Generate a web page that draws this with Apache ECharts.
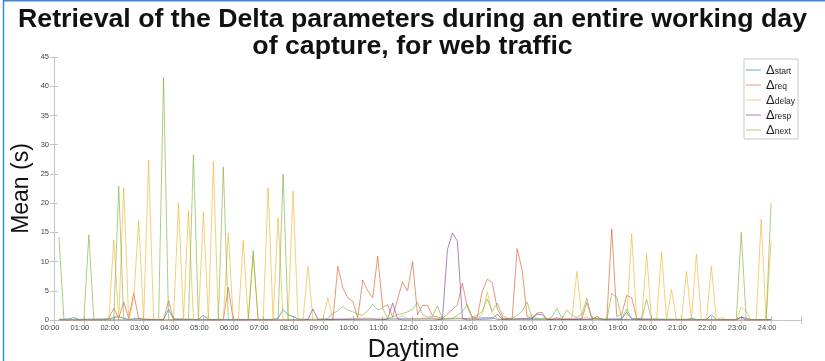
<!DOCTYPE html>
<html>
<head>
<meta charset="utf-8">
<script src="https://cdn.jsdelivr.net/npm/echarts@6/dist/echarts.min.js"></script>
<style>
html,body{margin:0;padding:0;background:#fff;}
#c{width:825px;height:361px;}
</style>
</head>
<body>
<div id="c"></div>
<script>
// Tick labels (hours)
const hourLabels = ['00:00','01:00','02:00','03:00','04:00','05:00','06:00','07:00','08:00','09:00','10:00','11:00','12:00','13:00','14:00','15:00','16:00','17:00','18:00','19:00','20:00','21:00','22:00','23:00','24:00'];
const seriesNames = ['start','req','delay','resp','next'];

// [minute of day, mean (s)]
const startData = [[10,0.1],[30,0.2],[40,0.4],[50,0.1],[110,0.2],[120,0.4],[130,0.6],[140,0.3],[150,0.1],[170,0.3],[180,0.1],[220,0.1],[230,1.8],[240,0.2],[290,0.1],[300,0.8],[310,0.1],[440,0.1],[450,0.3],[460,1.8],[470,0.9],[480,0.6],[490,0.2],[500,0.1],[640,0.2],[650,0.1],[760,0.3],[770,0.1],[880,0.4],[890,0.1],[1000,0.1],[1010,0.4],[1020,0.1],[1140,0.2],[1150,1.3],[1160,0.2],[1270,0.1],[1280,0.3],[1290,0.1],[1310,0.1],[1320,0.9],[1330,0.1],[1370,0.1],[1380,0.5],[1390,0.3],[1400,0.1],[1440,0.1]];

const reqData = [[10,0],[100,0],[110,0.3],[120,2.0],[130,0.3],[140,3.1],[150,0.3],[160,4.6],[170,0.2],[220,0],[230,3.3],[240,0.1],[340,0],[350,5.6],[360,0],[560,0],[570,9.2],[580,5.5],[590,3.8],[600,3.2],[610,0.4],[620,6.8],[630,5.0],[640,3.8],[650,10.9],[660,2.2],[670,2.6],[680,0.5],[690,3.6],[700,6.5],[710,5.0],[720,10.0],[730,0.9],[740,2.5],[750,2.5],[760,0.7],[770,0.5],[780,0.3],[790,1.0],[800,1.8],[810,2.6],[820,6.3],[830,2.2],[840,0.3],[850,0.5],[860,4.9],[870,7.0],[880,6.4],[890,2.0],[900,0.3],[920,0.2],[930,12.2],[940,8.6],[950,0.6],[960,0.2],[970,1.2],[980,1.3],[990,0.1],[1060,0.2],[1070,3.0],[1080,0.3],[1110,0],[1120,15.6],[1130,0.6],[1140,1.0],[1150,4.2],[1160,3.8],[1170,0.3],[1180,0],[1440,0]];

const delayData = [[10,0],[110,0],[120,13.7],[130,0],[140,22.6],[150,0],[160,3.5],[170,17.0],[180,0],[190,27.4],[200,0],[240,0],[250,20.0],[260,0],[270,18.7],[280,0],[290,0],[300,18.5],[310,0],[320,27.1],[330,0],[340,0],[350,14.9],[360,0],[370,0],[380,13.6],[390,0],[400,10.8],[410,0],[420,0],[430,22.6],[440,0],[450,17.5],[460,0],[470,0],[480,22.1],[490,0],[500,0],[510,9.2],[520,0],[540,0.2],[550,3.8],[560,0],[580,0.1],[600,0.3],[690,0.3],[700,0.8],[710,0.2],[760,0.3],[800,0.2],[810,0.4],[820,0.1],[850,0.3],[860,1.0],[870,4.8],[880,1.2],[890,0.3],[900,0.1],[950,0.2],[960,0.9],[970,0.2],[1030,0.2],[1040,0.4],[1050,8.3],[1060,0.3],[1070,0.5],[1080,0.1],[1150,0],[1160,14.8],[1170,0],[1180,0],[1190,11.3],[1200,0],[1210,0],[1220,11.7],[1230,0],[1240,5.2],[1250,0],[1260,0],[1270,8.3],[1280,0],[1290,11.3],[1300,0],[1310,0],[1320,9.2],[1330,0],[1340,0.5],[1350,0],[1370,0],[1380,2.2],[1390,1.5],[1400,0],[1410,0],[1420,17.2],[1430,0],[1440,13.4]];

const respData = [[10,0],[500,0],[510,0.1],[520,1.9],[530,0.1],[660,0],[670,0.2],[680,2.9],[690,0.2],[700,0],[770,0],[780,0.2],[790,12.0],[800,14.9],[810,13.5],[820,0.3],[830,0],[880,0.2],[890,1.0],[900,0.1],[960,0.3],[970,1.0],[980,0.9],[990,0.1],[1080,0.1],[1090,0.6],[1100,0.1],[1370,0],[1380,0.5],[1390,0],[1440,0]];

const nextData = [[10,14.2],[20,0],[60,0],[70,14.6],[80,0],[120,0],[130,22.9],[140,0],[210,0],[220,41.5],[230,0],[270,0],[280,28.2],[290,0],[330,0],[340,26.2],[350,0],[390,0],[400,11.9],[410,0],[450,0],[460,25.0],[470,0],[540,0],[550,0.3],[560,1.1],[570,1.6],[580,2.3],[590,1.7],[600,1.4],[610,1.0],[620,0.8],[630,1.6],[640,2.7],[650,1.7],[660,2.1],[670,0.2],[680,0.5],[690,0.9],[700,1.1],[710,1.4],[720,1.8],[730,3.0],[740,0.9],[750,0.5],[760,0.6],[770,2.4],[780,0.2],[790,0.3],[800,0.3],[810,0.8],[820,1.5],[830,2.6],[840,0.5],[850,0.8],[860,1.5],[870,3.6],[880,1.5],[890,2.9],[900,0.8],[910,0.3],[920,0.3],[930,0.8],[940,1.5],[950,3.1],[960,0.3],[990,0.2],[1000,0.5],[1010,2.0],[1020,0.3],[1030,1.7],[1040,0.8],[1050,0.4],[1060,1.0],[1070,3.7],[1080,0.3],[1110,0],[1120,4.5],[1130,3.9],[1140,0.3],[1150,1.9],[1160,0.2],[1180,0.3],[1190,3.5],[1200,0.1],[1370,0],[1380,15.0],[1390,0],[1430,0],[1440,20.0]];

const seriesData = [startData, reqData, delayData, respData, nextData];
const colors = ['#0072BD','#D95319','#EDB120','#7E2F8E','#77AC30'];

const chart = echarts.init(document.getElementById('c'), null, {renderer:'canvas'});
const axisGray = '#c4c4c4';
const font = 'Liberation Sans, Arial, Helvetica, sans-serif';

const option = {
  animation: false,
  textStyle: {fontFamily: font},
  title: {
    text: 'Retrieval of the Delta parameters during an entire working day\nof capture, for web traffic',
    left: 'center', top: 1,
    textStyle: {fontFamily: font, fontWeight: 'bold', fontSize: 26.7, lineHeight: 27, color: '#111'}
  },
  grid: {left: 54, right: 24, top: 57, bottom: 41, outerBoundsMode: 'none', containLabel: false},
  xAxis: [{
    type: 'value', min: 0, max: 1500, interval: 60,
    axisLine: {show: true, lineStyle: {color: axisGray}},
    axisTick: {show: true, inside: true, length: 4, lineStyle: {color: axisGray}},
    axisLabel: {formatter: v => hourLabels[v/60] || '', fontSize: 7.5, color: '#444', margin: 4, showMaxLabel: true, padding: [0, 8, 0, 0]},
    splitLine: {show: false},
    name: 'Daytime', nameLocation: 'middle', nameGap: 18, nameMoveOverlap: false,
    nameTextStyle: {fontSize: 25, color: '#111', fontFamily: font, padding: [0, 28, 0, 0]}
  }, {
    type: 'value', position: 'top', min: 0, max: 1500, interval: 60,
    axisLine: {show: true, lineStyle: {color: axisGray}},
    axisTick: {show: true, inside: true, length: 4, lineStyle: {color: axisGray}},
    axisLabel: {show: false}, splitLine: {show: false}
  }],
  yAxis: [{
    type: 'value', min: 0, max: 45, interval: 5,
    axisLine: {show: true, lineStyle: {color: axisGray}},
    axisTick: {show: true, inside: true, length: 4, lineStyle: {color: axisGray}},
    axisLabel: {fontSize: 7.5, color: '#444', margin: 5},
    splitLine: {show: false},
    name: 'Mean (s)', nameLocation: 'middle', nameGap: 21, nameRotate: 90, nameMoveOverlap: false,
    nameTextStyle: {fontSize: 23, color: '#111', fontFamily: font}
  }, {
    type: 'value', position: 'right', min: 0, max: 45, interval: 5,
    axisLine: {show: true, lineStyle: {color: axisGray}},
    axisTick: {show: true, inside: true, length: 4, lineStyle: {color: axisGray}},
    axisLabel: {show: false}, splitLine: {show: false}
  }],
  legend: {
    orient: 'vertical', right: 27, top: 59,
    data: seriesNames,
    icon: 'rect',
    backgroundColor: '#fff', borderColor: '#c8c8c8', borderWidth: 1,
    padding: [1, 3, 2, 2], itemGap: -2, itemWidth: 15, itemHeight: 1,
    formatter: n => '{d|\u0394}{s|' + n + '}',
    textStyle: {
      color: '#222',
      rich: {
        d: {fontSize: 13, lineHeight: 12, verticalAlign: 'top', color: '#222', fontFamily: font},
        s: {fontSize: 8.5, lineHeight: 6, padding: [7, 0, 0, 0], verticalAlign: 'bottom', color: '#222', fontFamily: font}
      }
    }
  },
  graphic: [
    {type: 'line', silent: true, shape: {x1: 3.5, y1: 0, x2: 3.5, y2: 361}, style: {stroke: '#3b8ad8', lineWidth: 1.5}},
    {type: 'line', silent: true, shape: {x1: 3, y1: 0.75, x2: 825, y2: 0.75}, style: {stroke: '#3b8ad8', lineWidth: 1.5}}
  ],
  series: seriesNames.map((n, i) => ({
    name: n, type: 'line', data: seriesData[i],
    symbol: 'none', showSymbol: false,
    color: colors[i],
    lineStyle: {width: 1, color: colors[i], opacity: 0.6},
    itemStyle: {color: colors[i], opacity: 0.6},
    z: 2 + i
  }))
};
chart.setOption(option);
</script>
</body>
</html>
